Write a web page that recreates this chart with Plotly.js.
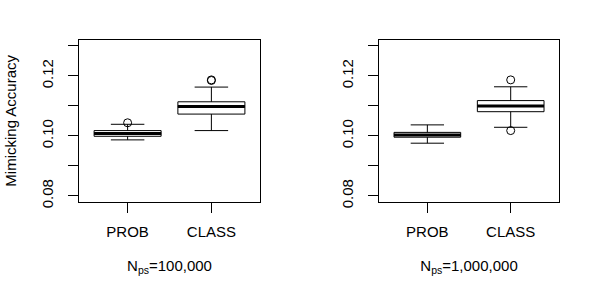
<!DOCTYPE html>
<html>
<head>
<meta charset="utf-8">
<script src="https://cdn.plot.ly/plotly-3.0.1.min.js"></script>
<style>html,body{margin:0;padding:0;background:#fff}#chart{width:600px;height:300px}</style>
</head>
<body>
<div id="chart"></div>
<script>
// Categories
const groups = ['PROB', 'CLASS'];
// Panel 1: N_ps = 100,000
const q1A = [0.0999, 0.1073];
const medA = [0.1008, 0.1098];
const q3A = [0.1018, 0.1114];
const loA = [0.0987, 0.1018];
const hiA = [0.1039, 0.1163];
const outXA = ['PROB', 'CLASS', 'CLASS'];
const outYA = [0.1044, 0.1185, 0.1187];
// Panel 2: N_ps = 1,000,000
const q1B = [0.0996, 0.1081];
const medB = [0.1003, 0.1100];
const q3B = [0.1012, 0.1118];
const loB = [0.0976, 0.1029];
const hiB = [0.1037, 0.1164];
const outXB = ['CLASS', 'CLASS'];
const outYB = [0.1187, 0.1018];
// Axis ticks
const yTickVals = [0.08, 0.10, 0.12];
const yTickText = ['0.08', '0.10', '0.12'];
const yMinorStart = 0.08;
const yMinorStep = 0.01;
const titles = ['N<sub>ps</sub>=100,000', 'N<sub>ps</sub>=1,000,000'];
const yTitle = 'Mimicking Accuracy';

function panel(q1, med, q3, lo, hi, ox, oy, xa, ya) {
  return [
    {type: 'box', x: groups, q1: q1, median: med, q3: q3, lowerfence: lo, upperfence: hi,
     width: 0.8, whiskerwidth: 0.5, fillcolor: '#ffffff', line: {color: '#000', width: 1},
     boxpoints: false, xaxis: xa, yaxis: ya, hoverinfo: 'skip'},
    {type: 'box', x: groups, q1: med, median: med, q3: med, lowerfence: med, upperfence: med,
     width: 0.8, whiskerwidth: 0, fillcolor: 'rgba(0,0,0,0)', line: {color: '#000', width: 3},
     boxpoints: false, xaxis: xa, yaxis: ya, hoverinfo: 'skip'},
    {type: 'scatter', mode: 'markers', x: ox, y: oy, xaxis: xa, yaxis: ya,
     marker: {symbol: 'circle-open', size: 8, color: '#000', line: {width: 1, color: '#000'}},
     hoverinfo: 'skip'}
  ];
}

const data = [].concat(
  panel(q1A, medA, q3A, loA, hiA, outXA, outYA, 'x', 'y'),
  panel(q1B, medB, q3B, loB, hiB, outXB, outYB, 'x2', 'y2')
);

function xAxis(domain, anchor, title) {
  return {domain: domain, anchor: anchor, type: 'category', categoryarray: groups,
    range: [-0.58, 1.58], showline: true, mirror: true, linecolor: '#000', linewidth: 1,
    ticks: 'outside', ticklen: 10, tickcolor: '#000', tickwidth: 1, showgrid: false, zeroline: false,
    ticklabelstandoff: 6,
    tickfont: {size: 15, color: '#000'},
    title: {text: title, font: {size: 15, color: '#000'}, standoff: 21}};
}
function yAxis(anchor, title) {
  const a = {domain: [0.3277, 0.8667], anchor: anchor, range: [0.0781, 0.1320],
    showline: true, mirror: true, linecolor: '#000', linewidth: 1,
    ticks: 'outside', ticklen: 10, tickcolor: '#000', tickwidth: 1, showgrid: false, zeroline: false,
    tickmode: 'array', tickvals: yTickVals, ticktext: yTickText, tickangle: -90,
    minor: {tickmode: 'linear', tick0: yMinorStart, dtick: yMinorStep, ticks: 'outside',
            ticklen: 10, tickcolor: '#000', tickwidth: 1, showgrid: false},
    ticklabelstandoff: 9,
    tickfont: {size: 15, color: '#000'}};
  if (title) a.title = {text: title, font: {size: 15, color: '#000'}, standoff: 18};
  return a;
}

const layout = {
  width: 600, height: 300,
  margin: {l: 0, r: 0, t: 0, b: 0},
  paper_bgcolor: '#fff', plot_bgcolor: '#fff',
  showlegend: false,
  font: {family: 'Liberation Sans, Arial, sans-serif', size: 15, color: '#000'},
  boxmode: 'overlay',
  xaxis: xAxis([0.1317, 0.4333], 'y', titles[0]),
  yaxis: yAxis('x', yTitle),
  xaxis2: xAxis([0.6317, 0.9317], 'y2', titles[1]),
  yaxis2: yAxis('x2', null)
};

Plotly.newPlot('chart', data, layout, {staticPlot: true, displayModeBar: false});
</script>
</body>
</html>
